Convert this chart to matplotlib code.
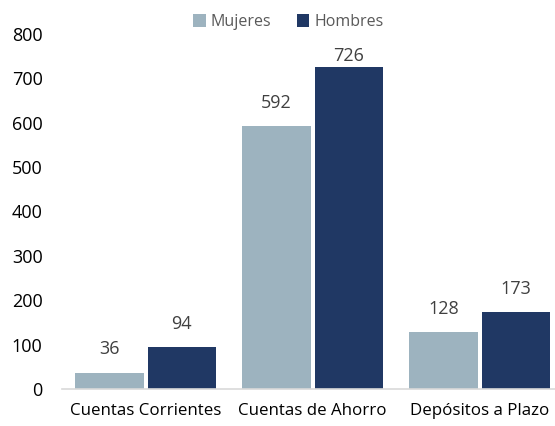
import matplotlib
matplotlib.use('Agg')
import matplotlib.pyplot as plt
import numpy as np

categorias = ['Cuentas Corrientes', 'Cuentas de Ahorro', 'Depósitos a Plazo']
mujeres = [36, 592, 128]
hombres = [94, 726, 173]

plt.rcParams['font.family'] = ['Open Sans', 'DejaVu Sans']

fig = plt.figure(figsize=(5.55, 4.26), dpi=100)
ax = fig.add_axes([62 / 555, 1 - 389 / 426, 493 / 555, 355 / 426])

x = np.arange(len(categorias))
w = 0.41
b1 = ax.bar(x - w / 2 - 0.012, mujeres, w, color='#9db3bf', label='Mujeres')
b2 = ax.bar(x + w / 2 + 0.012, hombres, w, color='#203864', label='Hombres')

for bars in (b1, b2):
    for r in bars:
        h = r.get_height()
        off = 8 if h > 700 else 17  # la etiqueta de 726 queda pegada a la barra
        ax.annotate(f'{int(h)}', (r.get_x() + r.get_width() / 2, h),
                    xytext=(0, off), textcoords='offset points', ha='center', va='center',
                    fontsize=13, color='#404040')

ax.set_xlim(-0.5, 2.45)
ax.set_ylim(0, 800)
ax.set_yticks(range(0, 801, 100))
ax.set_xticks(x)
ax.set_xticklabels(categorias, fontsize=12.2, color='black')
ax.tick_params(axis='y', labelsize=13, length=0, pad=14)
ax.tick_params(axis='x', length=0, pad=10)
for s in ('top', 'right', 'left'):
    ax.spines[s].set_visible(False)
ax.spines['bottom'].set_color('#d9d9d9')
ax.spines['bottom'].set_linewidth(1.2)

fig.legend(loc='center', bbox_to_anchor=(0.519, 1 - 22 / 426), ncol=2, frameon=False,
           fontsize=11.5, labelcolor='#595959', handlelength=0.8, handleheight=0.8,
           handletextpad=0.3, columnspacing=1.6)

fig.savefig('out.png', dpi=100)
plt.close()
